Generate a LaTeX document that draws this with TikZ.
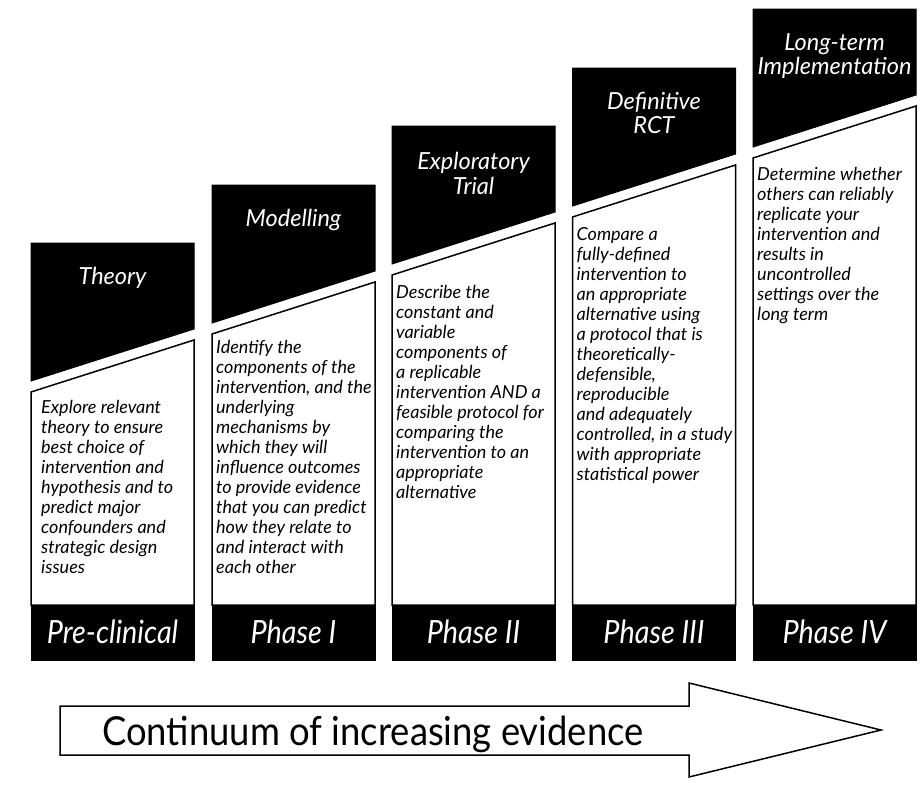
\documentclass[tikz,border=0pt]{standalone}
\usepackage{fontspec}
\setmainfont{Lato}
\newfontfamily\narrowfont{Lato}[FakeStretch=0.9]
\newfontfamily\arrowfont{Lato}[FakeStretch=0.91]
\tikzset{
  stagehead/.style={fill=black, draw=black, line width=1pt},
  stagepanel/.style={fill=white, draw=black, line width=1.5pt},
  stagefoot/.style={fill=black, draw=black, line width=1pt},
  headlabel/.style={text=white, font=\fontsize{23.5}{24.5}\selectfont\itshape, align=center, anchor=north, inner sep=0pt},
  panellabel/.style={font=\fontsize{18}{20}\selectfont\itshape, align=left, anchor=north west, inner sep=0pt},
  phaselabel/.style={text=white, font=\narrowfont\fontsize{32}{32}\selectfont\itshape, anchor=base, inner sep=0pt},
  evidence/.style={fill=white, draw=black, line width=1.5pt, line join=miter}
}
\begin{document}
\begin{tikzpicture}[x=1pt,y=-1pt]
  \useasboundingbox (0,0) rectangle (920,787);
  \begin{scope}[xshift=31pt]
   \draw[stagehead] (0,243) -- (163,243) -- (163,329) -- (0,381) -- cycle;
   \draw[stagepanel] (0,392) -- (163,340) -- (163,605) -- (0,605) -- cycle;
   \draw[stagefoot] (0,605) rectangle (163,660);
   \node[headlabel] (theory) at (81.5,267) {Theory};
   \node[panellabel] (theorytext) at (10,400) {Explore relevant\\theory to ensure\\best choice of\\intervention and\\hypothesis and to\\predict major\\confounders and\\strategic design\\issues};
   \node[phaselabel] (preclin) at (81.5,643) {Pre-clinical};
  \end{scope}
  \begin{scope}[xshift=212pt]
   \draw[stagehead] (0,185) -- (163,185) -- (163,271) -- (0,323) -- cycle;
   \draw[stagepanel] (0,334) -- (163,282) -- (163,605) -- (0,605) -- cycle;
   \draw[stagefoot] (0,605) rectangle (163,660);
   \node[headlabel] (model) at (81.5,209) {Modelling};
   \node[panellabel] (modeltext) at (4,340) {Identify the\\components of the\\intervention, and the\\underlying\\mechanisms by\\which they will\\influence outcomes\\to provide evidence\\that you can predict\\how they relate to\\and interact with\\each other};
   \node[phaselabel] (phaseone) at (81.5,643) {Phase I};
  \end{scope}
  \begin{scope}[xshift=392pt]
   \draw[stagehead] (0,126) -- (163,126) -- (163,212) -- (0,264) -- cycle;
   \draw[stagepanel] (0,275) -- (163,223) -- (163,605) -- (0,605) -- cycle;
   \draw[stagefoot] (0,605) rectangle (163,660);
   \node[headlabel] (explore) at (81.5,152) {Exploratory\\Trial};
   \node[panellabel] (exploretext) at (4,285) {Describe the\\constant and\\variable\\components of\\a replicable\\intervention AND a\\feasible protocol for\\comparing the\\intervention to an\\appropriate\\alternative};
   \node[phaselabel] (phasetwo) at (81.5,643) {Phase II};
  \end{scope}
  \begin{scope}[xshift=572.5pt]
   \draw[stagehead] (0,68) -- (163,68) -- (163,154) -- (0,206) -- cycle;
   \draw[stagepanel] (0,217) -- (163,165) -- (163,605) -- (0,605) -- cycle;
   \draw[stagefoot] (0,605) rectangle (163,660);
   \node[headlabel] (rct) at (81.5,92) {Definitive\\RCT};
   \node[panellabel] (rcttext) at (4,227) {Compare a\\fully-defined\\intervention to\\an appropriate\\alternative using\\a protocol that is\\theoretically-\\defensible,\\reproducible\\and adequately\\controlled, in a study\\with appropriate\\statistical power};
   \node[phaselabel] (phasethree) at (81.5,643) {Phase III};
  \end{scope}
  \begin{scope}[xshift=753pt]
   \draw[stagehead] (0,9) -- (163,9) -- (163,95) -- (0,147) -- cycle;
   \draw[stagepanel] (0,158) -- (163,106) -- (163,605) -- (0,605) -- cycle;
   \draw[stagefoot] (0,605) rectangle (163,660);
   \node[headlabel] (longterm) at (81.5,33) {Long-term\\Implementation};
   \node[panellabel] (longtext) at (4,167) {Determine whether\\others can reliably\\replicate your\\intervention and\\results in\\uncontrolled\\settings over the\\long term};
   \node[phaselabel] (phasefour) at (81.5,643) {Phase IV};
  \end{scope}
  \draw[evidence] (60,706) -- (689,706) -- (689,683) -- (881,730) -- (689,777) -- (689,755) -- (60,755) -- cycle;
  \node[anchor=base west, inner sep=0pt, font=\arrowfont\fontsize{40}{40}\selectfont] (continuum) at (102,745) {Continuum of increasing evidence};
\end{tikzpicture}
\end{document}
